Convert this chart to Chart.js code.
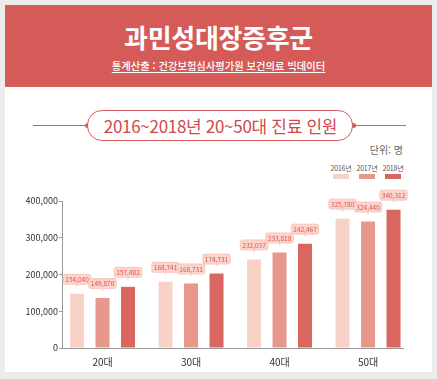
<!DOCTYPE html>
<html lang="ko">
<head>
<meta charset="utf-8">
<script src="https://cdn.jsdelivr.net/npm/chart.js@4/dist/chart.umd.min.js"></script>
<style>
  html, body { margin:0; padding:0; }
  body { width:437px; height:379px; background:#ececec; position:relative; overflow:hidden;
         font-family:"Noto Sans CJK KR","Noto Sans",sans-serif; }
  .card { position:absolute; left:5px; top:5px; width:427px; height:367px; background:#fff; }
  .banner { position:absolute; left:5px; top:5px; width:427px; height:82px; background:#d45b58; }
  .title { position:absolute; left:0; width:437px; top:20px; text-align:center; color:#fff;
           font-size:26px; font-weight:700; line-height:34px; letter-spacing:-0.3px; }
  .subtitle { position:absolute; left:0; width:437px; top:58px; text-align:center; color:#fff;
           font-size:10.3px; font-weight:500; line-height:16px; text-decoration:underline; text-underline-offset:2px; }
  .hline { position:absolute; left:33px; width:373px; top:125px; height:1px; background:#d9595a; }
  .pill { position:absolute; left:87px; top:110px; width:264px; height:29px; border:1.3px solid #d9595a;
          border-radius:15px; background:#fff; }
  .knob { position:absolute; width:5px; height:5px; border-radius:50%; background:#d9595a; top:123px; }
  .pilltext { position:absolute; left:87px; width:267px; top:110px; height:31px; line-height:31px; text-align:center;
              color:#d2474b; font-size:17px; font-weight:400; letter-spacing:-0.3px; }
  .unit { position:absolute; right:34px; top:142px; font-size:10px; color:#666; line-height:16px; }
  .lg { position:absolute; font-size:7px; color:#555; text-align:center; width:30px; line-height:9px; letter-spacing:-0.2px; }
  .sw { position:absolute; width:16px; height:5px; }
  canvas { position:absolute; left:0; top:0; }
</style>
</head>
<body>
<div class="card"></div>
<div class="banner"></div>
<div class="title">과민성대장증후군</div>
<div class="subtitle">통계산출 : 건강보험심사평가원 보건의료 빅데이터</div>
<div class="hline"></div>
<div class="knob" style="left:85px"></div>
<div class="knob" style="left:351px"></div>
<div class="pill"></div>
<div class="pilltext">2016~2018년 20~50대 진료 인원</div>
<div class="unit">단위: 명</div>
<div id="legend"></div>
<canvas id="c" width="437" height="379"></canvas>
<script>
// ---- data ----
const categories = ["20대", "30대", "40대", "50대"];
const seriesNames = ["2016년", "2017년", "2018년"];
const seriesColors = ["#f8d2c7", "#e8978b", "#d9665f"];
// bar heights as drawn in the picture
const values2016 = [147500, 180000, 241000, 352000];
const values2017 = [136000, 175500, 260000, 344000];
const values2018 = [166500, 202500, 284000, 376500];
// value labels printed on the picture
const labels2016 = ["154,040", "168,741", "232,037", "325,780"];
const labels2017 = ["149,870", "168,731", "233,818", "324,440"];
const labels2018 = ["157,482", "174,731", "242,467", "340,312"];
const yTicks = [0, 100000, 200000, 300000, 400000];

const seriesValues = [values2016, values2017, values2018];
const seriesLabels = [labels2016, labels2017, labels2018];

// legend (HTML)
const legendX = [341, 367, 393];
const lg = document.getElementById('legend');
seriesNames.forEach((n, i) => {
  const t = document.createElement('div');
  t.className = 'lg'; t.textContent = n;
  t.style.left = (legendX[i] - 15) + 'px'; t.style.top = '164px';
  lg.appendChild(t);
  const s = document.createElement('div');
  s.className = 'sw'; s.style.background = seriesColors[i];
  s.style.left = (legendX[i] - 8) + 'px'; s.style.top = '174px';
  lg.appendChild(s);
});

const FONT = '"Noto Sans CJK KR","Noto Sans",sans-serif';
const X_MIN = -0.458, X_MAX = 3.395;

const labelPlugin = {
  id: 'valueBoxes',
  afterDatasetsDraw(chart) {
    const ctx = chart.ctx;
    ctx.save();
    ctx.font = '6.5px ' + FONT;
    ctx.textAlign = 'center';
    ctx.textBaseline = 'middle';
    chart.data.datasets.forEach((ds, di) => {
      const meta = chart.getDatasetMeta(di);
      meta.data.forEach((bar, j) => {
        const txt = seriesLabels[di][j];
        const x = bar.x, top = bar.y;
        const w = ctx.measureText(txt).width + 4, h = 10;
        const cy = top - 14.5;
        ctx.fillStyle = '#fbd5cb';
        ctx.strokeStyle = '#f5c2b6';
        ctx.lineWidth = 0.8;
        ctx.beginPath();
        ctx.roundRect(x - w / 2, cy - h / 2, w, h, 2);
        ctx.fill();
        ctx.stroke();
        ctx.beginPath();
        ctx.moveTo(x - 2.5, cy + h / 2 - 0.5);
        ctx.lineTo(x + 2.5, cy + h / 2 - 0.5);
        ctx.lineTo(x, cy + h / 2 + 2.5);
        ctx.closePath();
        ctx.fill();
        ctx.fillStyle = '#e05056';
        ctx.fillText(txt, x, cy + 0.5);
      });
    });
    ctx.restore();
  }
};

new Chart(document.getElementById('c'), {
  type: 'bar',
  data: {
    datasets: seriesNames.map((n, i) => ({
      label: n,
      data: categories.map((c, j) => ({ x: j, y: seriesValues[i][j] })),
      backgroundColor: seriesColors[i],
      borderWidth: 0,
      categoryPercentage: 0.864,
      barPercentage: 0.55
    }))
  },
  options: {
    responsive: false,
    devicePixelRatio: 1,
    animation: false,
    layout: { padding: { left: 0, top: 201, right: 34, bottom: 0 } },
    plugins: { legend: { display: false }, tooltip: { enabled: false } },
    scales: {
      x: {
        type: 'linear',
        offset: false,
        bounds: 'data',
        min: X_MIN,
        max: X_MAX,
        afterDataLimits(scale) { scale.min = X_MIN; scale.max = X_MAX; },
        afterBuildTicks(scale) {
          scale.ticks = categories.map((c, j) => ({ value: j }));
          scale.min = X_MIN; scale.max = X_MAX;
        },
        afterFit(scale) { scale.height = 31; },
        grid: { display: false, drawTicks: false },
        border: { display: true, color: '#999', width: 1 },
        ticks: {
          callback: (v) => categories[v],
          padding: 8,
          color: '#333',
          font: { family: FONT, size: 10 },
          maxRotation: 0,
          autoSkip: false
        }
      },
      y: {
        min: 0,
        max: 400000,
        afterBuildTicks(scale) { scale.ticks = yTicks.map(v => ({ value: v })); },
        afterFit(scale) { scale.width = 62; },
        grid: { drawOnChartArea: false, drawTicks: true, tickLength: 3, color: '#999' },
        border: { display: true, color: '#999', width: 1 },
        ticks: {
          padding: 1,
          color: '#333',
          font: { family: FONT, size: 9 },
          callback: (v) => v.toLocaleString('en-US')
        }
      }
    }
  },
  plugins: [labelPlugin]
});
</script>
</body>
</html>
